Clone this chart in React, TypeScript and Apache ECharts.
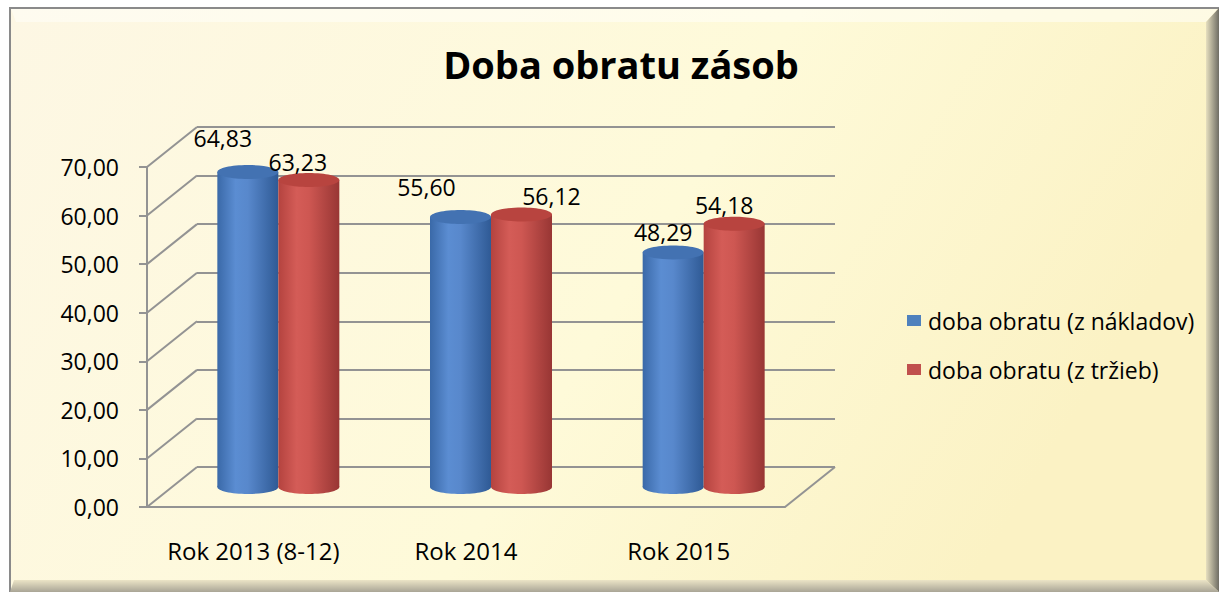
import React, { useEffect, useRef } from "react";
import * as echarts from "echarts";

const categories = ["Rok 2013 (8-12)", "Rok 2014", "Rok 2015"];
const seriesNames = ["doba obratu (z nákladov)", "doba obratu (z tržieb)"];
const nakladyValues = [64.83, 55.6, 48.29];
const trzbyValues = [63.23, 56.12, 54.18];
const yTickValues = [0, 10, 20, 30, 40, 50, 60, 70];

// styling (label nudges relative to bar top, in px)
const labelNudges = [
  [[-25, -34], [-34, -30], [-10, -20]],
  [[-11, -18], [30, -18], [-10, -19]],
];

const FONT = "'Open Sans', sans-serif";
const DEPTH_X = 50;
const DEPTH_Y = -40;
const BAR_W = 61;
const GRID_COLOR = "#939393";

const fmt = (v: number) => v.toFixed(2).replace(".", ",");

const bodyGradients = [
  new echarts.graphic.LinearGradient(0, 0, 1, 0, [
    { offset: 0, color: "#3a69a8" },
    { offset: 0.3, color: "#5b8dd2" },
    { offset: 0.5, color: "#5888cc" },
    { offset: 1, color: "#2f5a95" },
  ]),
  new echarts.graphic.LinearGradient(0, 0, 1, 0, [
    { offset: 0, color: "#b4433f" },
    { offset: 0.3, color: "#d45c57" },
    { offset: 0.5, color: "#ce5752" },
    { offset: 1, color: "#983634" },
  ]),
];
const topColors = ["#4372b2", "#b8443f"];
const legendColors = ["#4f81bd", "#c0504d"];

function makeBarSeries(si: number, values: number[]) {
  return {
    type: "custom",
    name: seriesNames[si],
    xAxisIndex: 0,
    yAxisIndex: 0,
    itemStyle: { color: legendColors[si] },
    data: values.map((v, i) => [i, v]),
    z: 5 + si,
    renderItem: (params: any, api: any) => {
      const cat = api.value(0);
      const val = api.value(1);
      const top = api.coord([cat, val]);
      const base = api.coord([cat, 0]);
      const cx = top[0] + DEPTH_X / 2;
      const x0 = si === 0 ? cx - BAR_W : cx;
      const yTop = top[1] + DEPTH_Y / 2;
      const yBase = base[1] + DEPTH_Y / 2;
      const ry = 7;
      const nudge = labelNudges[si][params.dataIndex];
      return {
        type: "group",
        children: [
          {
            type: "ellipse",
            shape: { cx: x0 + BAR_W / 2, cy: yBase, rx: BAR_W / 2, ry },
            style: { fill: bodyGradients[si] },
          },
          {
            type: "rect",
            shape: { x: x0, y: yTop, width: BAR_W, height: yBase - yTop },
            style: { fill: bodyGradients[si] },
          },
          {
            type: "ellipse",
            shape: { cx: x0 + BAR_W / 2, cy: yTop, rx: BAR_W / 2, ry },
            style: { fill: topColors[si] },
          },
          {
            type: "text",
            x: x0 + BAR_W / 2 + nudge[0],
            y: yTop + nudge[1],
            z2: 10,
            style: {
              text: fmt(val),
              fill: "#000",
              font: `23px ${FONT}`,
              align: "center",
              verticalAlign: "middle",
            },
          },
        ],
      };
    },
  };
}

export default function App() {
  const ref = useRef<HTMLDivElement>(null);
  useEffect(() => {
    if (!ref.current) return;
    const chart = echarts.init(ref.current, undefined, { renderer: "svg" });
    const option: any = {
      animation: false,
      backgroundColor: "#ffffff",
      textStyle: { fontFamily: FONT },
      graphic: [
        {
          type: "rect",
          z: -10,
          shape: { x: 10, y: 8, width: 1209, height: 584 },
          style: {
            fill: new echarts.graphic.LinearGradient(0, 0, 1, 0.3, [
              { offset: 0, color: "#fdf7e4" },
              { offset: 0.6, color: "#fefad9" },
              { offset: 1, color: "#fbf2c4" },
            ]),
            stroke: "#8a8a8a",
            lineWidth: 2,
          },
        },
        {
          type: "polygon",
          z: -9,
          shape: { points: [[11, 9], [1218, 9], [1206, 22], [16, 22]] },
          style: { fill: "rgba(255,255,250,0.55)" },
        },
        {
          type: "polygon",
          z: -9,
          shape: { points: [[1206, 22], [1219, 8], [1219, 592], [1206, 580]] },
          style: {
            fill: new echarts.graphic.LinearGradient(0, 0, 1, 0, [
              { offset: 0, color: "#e6dfbf" },
              { offset: 1, color: "#6f6d64" },
            ]),
          },
        },
        {
          type: "polygon",
          z: -9,
          shape: { points: [[14, 580], [1206, 580], [1219, 592], [10, 592]] },
          style: {
            fill: new echarts.graphic.LinearGradient(0, 0, 0, 1, [
              { offset: 0, color: "#ebe4c6" },
              { offset: 1, color: "#a9a596" },
            ]),
          },
        },
        {
          type: "text",
          x: 621,
          y: 64,
          style: {
            text: "Doba obratu zásob",
            font: `bold 38px ${FONT}`,
            fill: "#000",
            align: "center",
            verticalAlign: "middle",
          },
        },
      ],
      legend: {
        data: seriesNames,
        orient: "vertical",
        left: 902,
        top: 302,
        itemWidth: 14,
        itemHeight: 11,
        itemGap: 22,
        icon: "rect",
        textStyle: {
          fontFamily: FONT,
          fontSize: 23,
          color: "#000",
          lineHeight: 27,
          padding: [0, 0, 0, 2],
        },
      },
      grid: [
        { left: 147, top: 167, width: 638, height: 340 },
        { left: 197, top: 127, width: 638, height: 340 },
      ],
      xAxis: [
        {
          type: "category",
          gridIndex: 0,
          data: categories,
          axisLine: { lineStyle: { color: GRID_COLOR, width: 2 } },
          axisTick: { length: 8, lineStyle: { color: GRID_COLOR, width: 2 } },
          axisLabel: {
            color: "#000",
            fontSize: 24,
            fontFamily: FONT,
            margin: 31,
            interval: 0,
          },
          splitLine: { show: false },
        },
        {
          type: "category",
          gridIndex: 1,
          data: categories,
          show: false,
        },
      ],
      yAxis: [
        {
          type: "value",
          gridIndex: 0,
          min: 0,
          max: 70,
          interval: 10,
          axisLine: { show: true, lineStyle: { color: GRID_COLOR, width: 2 } },
          axisTick: { show: true, length: 8, lineStyle: { color: GRID_COLOR, width: 2 } },
          axisLabel: {
            color: "#000",
            fontSize: 23,
            fontFamily: FONT,
            margin: 28,
            formatter: (v: number) => fmt(v),
          },
          splitLine: { show: false },
        },
        {
          type: "value",
          gridIndex: 1,
          min: 0,
          max: 70,
          interval: 10,
          axisLine: { show: false },
          axisTick: { show: false },
          axisLabel: { show: false },
          splitLine: { show: true, lineStyle: { color: GRID_COLOR, width: 2 } },
        },
      ],
      series: [
        {
          type: "custom",
          name: "depth",
          xAxisIndex: 0,
          yAxisIndex: 0,
          silent: true,
          z: 1,
          data: yTickValues.map((v) => [0, v]),
          renderItem: (params: any, api: any) => {
            const v = api.value(1);
            const p = api.coord([0, v]);
            const cs = params.coordSys;
            const lines: any[] = [
              {
                type: "line",
                shape: { x1: cs.x, y1: p[1], x2: cs.x + DEPTH_X, y2: p[1] + DEPTH_Y },
                style: { stroke: GRID_COLOR, lineWidth: 2 },
              },
            ];
            if (v === 0) {
              lines.push({
                type: "line",
                shape: {
                  x1: cs.x + cs.width,
                  y1: p[1],
                  x2: cs.x + cs.width + DEPTH_X,
                  y2: p[1] + DEPTH_Y,
                },
                style: { stroke: GRID_COLOR, lineWidth: 2 },
              });
            }
            return { type: "group", children: lines };
          },
        },
        {
          type: "line",
          name: "wall",
          xAxisIndex: 1,
          yAxisIndex: 1,
          data: [],
          silent: true,
        },
        makeBarSeries(0, nakladyValues),
        makeBarSeries(1, trzbyValues),
      ],
    };
    chart.setOption(option);
    return () => chart.dispose();
  }, []);
  return (
    <div
      ref={ref}
      style={{ position: "absolute", left: 0, top: 0, width: 1219, height: 592 }}
    />
  );
}
